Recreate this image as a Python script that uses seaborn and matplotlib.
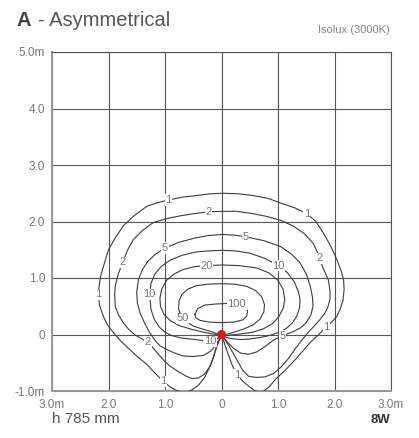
import pandas as pd
import numpy as np
import matplotlib
matplotlib.use('Agg')
import matplotlib.pyplot as plt
import seaborn as sns

# Isolux lines (lux); every line starts and ends at the luminaire
iso1_x = [0, -0.04, -0.085, -0.15, -0.22, -0.30, -0.40, -0.52, -0.66, -0.80, -0.92, -1.03, -1.18, -1.32, -1.48,
          -1.62, -1.78, -1.91, -2.02, -2.09, -2.16, -2.18, -2.16, -2.14, -2.07, -2.00, -1.88, -1.74, -1.55, -1.32,
          -1.14, -0.94, -0.70, -0.44, -0.20, 0.03, 0.30, 0.56, 0.82, 1.04, 1.30, 1.51, 1.67, 1.80, 1.93, 2.04,
          2.12, 2.16, 2.17, 2.15, 2.10, 2.04, 1.96, 1.86, 1.72, 1.57, 1.45, 1.31, 1.14, 0.95, 0.84, 0.72, 0.60,
          0.50, 0.38, 0.27, 0.18, 0.10, 0.04, 0]
iso1_y = [-0.03, -0.10, -0.20, -0.42, -0.60, -0.76, -0.89, -0.98, -1.03, -0.99, -0.92, -0.83, -0.68, -0.53, -0.40,
          -0.27, -0.12, 0.03, 0.17, 0.32, 0.52, 0.71, 0.90, 1.03, 1.27, 1.50, 1.71, 1.92, 2.10, 2.27,
          2.33, 2.38, 2.43, 2.46, 2.49, 2.50, 2.49, 2.46, 2.41, 2.33, 2.24, 2.14, 2.00, 1.80, 1.57, 1.33,
          1.12, 0.97, 0.80, 0.60, 0.45, 0.32, 0.23, 0.14, 0.00, -0.14, -0.28, -0.44, -0.62, -0.80, -0.93, -1.02, -1.00,
          -0.93, -0.83, -0.71, -0.52, -0.30, -0.12, -0.03]

iso2_x = [0, -0.04, -0.085, -0.14, -0.20, -0.30, -0.41, -0.52, -0.62, -0.76, -0.91, -1.00, -1.09, -1.20, -1.30,
          -1.42, -1.53, -1.65, -1.74, -1.83, -1.88, -1.89, -1.88, -1.83, -1.75, -1.66, -1.56, -1.40, -1.21, -0.98,
          -0.73, -0.48, -0.23, 0.00, 0.27, 0.55, 0.80, 1.05, 1.27, 1.46, 1.62, 1.70, 1.73, 1.80, 1.89, 1.92,
          1.92, 1.88, 1.83, 1.74, 1.63, 1.52, 1.42, 1.30, 1.19, 1.06, 0.92, 0.77, 0.62, 0.48, 0.38, 0.30,
          0.20, 0.12, 0.05, 0]
iso2_y = [-0.03, -0.10, -0.22, -0.40, -0.56, -0.70, -0.77, -0.78, -0.74, -0.66, -0.56, -0.48, -0.38, -0.25, -0.14,
          -0.07, -0.01, 0.10, 0.21, 0.36, 0.50, 0.70, 0.86, 1.06, 1.28, 1.50, 1.68, 1.84, 1.98, 2.05,
          2.10, 2.14, 2.17, 2.18, 2.18, 2.14, 2.09, 2.02, 1.92, 1.79, 1.62, 1.45, 1.35, 1.17, 0.97, 0.78,
          0.62, 0.48, 0.38, 0.26, 0.14, 0.02, -0.10, -0.26, -0.42, -0.57, -0.69, -0.75, -0.76, -0.74, -0.64, -0.50,
          -0.32, -0.18, -0.08, -0.03]

iso5_x = [0, -0.05, -0.115, -0.20, -0.32, -0.50, -0.68, -0.85, -0.98, -1.09, -1.18, -1.27, -1.36, -1.44, -1.49,
          -1.50, -1.47, -1.40, -1.30, -1.16, -1.00, -0.76, -0.50, -0.25, 0.00, 0.22, 0.43, 0.75, 1.04, 1.24,
          1.39, 1.50, 1.57, 1.61, 1.62, 1.58, 1.50, 1.40, 1.27, 1.08, 0.92, 0.76, 0.62, 0.48, 0.34, 0.21,
          0.11, 0.04, 0]
iso5_y = [-0.03, -0.10, -0.21, -0.30, -0.37, -0.39, -0.38, -0.32, -0.26, -0.20, -0.10, 0.03, 0.20, 0.38, 0.56,
          0.76, 0.97, 1.15, 1.30, 1.43, 1.53, 1.63, 1.70, 1.75, 1.77, 1.76, 1.73, 1.66, 1.56, 1.42,
          1.27, 1.07, 0.86, 0.66, 0.50, 0.34, 0.21, 0.12, 0.05, -0.02, -0.10, -0.22, -0.31, -0.35, -0.33, -0.24,
          -0.14, -0.06, -0.03]

iso10_x = [0, -0.08, -0.20, -0.38, -0.55, -0.72, -0.88, -1.00, -1.10, -1.19, -1.25, -1.27, -1.25, -1.18, -1.06,
           -0.90, -0.70, -0.46, -0.22, 0.00, 0.25, 0.50, 0.76, 1.01, 1.17, 1.29, 1.36, 1.39, 1.38, 1.33,
           1.25, 1.15, 1.02, 0.88, 0.70, 0.50, 0.32, 0.16, 0.05, 0]
iso10_y = [-0.03, -0.08, -0.12, -0.10, -0.08, -0.06, -0.02, 0.04, 0.13, 0.27, 0.45, 0.71, 0.90, 1.07, 1.21,
           1.32, 1.40, 1.46, 1.48, 1.49, 1.48, 1.44, 1.35, 1.22, 1.09, 0.93, 0.76, 0.62, 0.46, 0.32,
           0.20, 0.11, 0.04, -0.01, -0.05, -0.08, -0.09, -0.07, -0.04, -0.03]

iso20_x = [0, -0.10, -0.32, -0.52, -0.73, -0.90, -1.02, -1.08, -1.09, -1.06, -0.97, -0.84, -0.68, -0.48, -0.27,
           0.00, 0.30, 0.62, 0.84, 1.00, 1.09, 1.12, 1.09, 1.01, 0.90, 0.74, 0.55, 0.35, 0.15, 0]
iso20_y = [-0.03, 0.00, 0.04, 0.09, 0.15, 0.24, 0.36, 0.50, 0.64, 0.80, 0.96, 1.07, 1.15, 1.20, 1.22,
           1.23, 1.22, 1.18, 1.09, 0.96, 0.80, 0.62, 0.46, 0.31, 0.19, 0.10, 0.04, 0.01, -0.01, -0.03]

iso50_x = [0, -0.14, -0.32, -0.50, -0.63, -0.72, -0.76, -0.75, -0.70, -0.60, -0.46, -0.25, 0.00, 0.25, 0.45,
           0.60, 0.71, 0.76, 0.75, 0.68, 0.56, 0.40, 0.22, 0.08, 0]
iso50_y = [-0.03, 0.04, 0.09, 0.15, 0.23, 0.34, 0.46, 0.60, 0.71, 0.80, 0.86, 0.89, 0.90, 0.89, 0.85,
           0.78, 0.67, 0.53, 0.40, 0.27, 0.17, 0.10, 0.04, 0.00, -0.03]

iso100_x = [-0.47, -0.42, -0.30, -0.10, 0.12, 0.30, 0.40, 0.46, 0.45, 0.38, 0.22, 0.00, -0.22, -0.38, -0.46, -0.47]
iso100_y = [0.36, 0.46, 0.52, 0.54, 0.55, 0.54, 0.50, 0.42, 0.33, 0.26, 0.22, 0.21, 0.22, 0.25, 0.30, 0.36]

# inline value labels
label_text = ['1', '1', '1', '1', '1', '1', '2', '2', '2', '2', '5', '5', '5', '10', '10', '10', '20', '50', '100']
label_x = [-0.94, 1.51, -2.18, 1.86, -1.03, 0.27, -0.23, -1.75, 1.73, -1.30, -1.00, 0.43, 1.08, 1.01, -1.27, -0.20,
           -0.27, -0.69, 0.27]
label_y = [2.38, 2.14, 0.71, 0.14, -0.83, -0.71, 2.17, 1.28, 1.35, -0.14, 1.53, 1.73, -0.02, 1.22, 0.71, -0.12,
           1.22, 0.29, 0.54]

source_x = [0.0]
source_y = [0.0]

x_ticks = [-3, -2, -1, 0, 1, 2, 3]
x_ticklabels = ['3.0m', '2.0', '1.0', '0', '1.0', '2.0', '3.0m']
y_ticks = [-1, 0, 1, 2, 3, 4, 5]
y_ticklabels = ['-1.0m', '0', '1.0', '2.0', '3.0', '4.0', '5.0m']

lines = {'1': (iso1_x, iso1_y), '2': (iso2_x, iso2_y), '5': (iso5_x, iso5_y), '10': (iso10_x, iso10_y),
         '20': (iso20_x, iso20_y), '50': (iso50_x, iso50_y), '100': (iso100_x, iso100_y)}
frames = []
for lvl, (xs, ys) in lines.items():
    frames.append(pd.DataFrame({'x': xs, 'y': ys, 'level': lvl, 'order': range(len(xs))}))
df = pd.concat(frames, ignore_index=True)

plt.rcParams['font.family'] = ['Liberation Sans', 'DejaVu Sans']

fig = plt.figure(figsize=(4.19, 4.38), dpi=100)
ax = fig.add_axes([52 / 419, 47 / 438, 339 / 419, 339 / 438])

sns.lineplot(data=df, x='x', y='y', units='level', estimator=None, sort=False,
             color='#3c3c3c', lw=0.8, ax=ax, zorder=3)

for t, lx, ly in zip(label_text, label_x, label_y):
    ax.text(lx, ly, t, ha='center', va='center', fontsize=8, color='#777777', zorder=4,
            bbox=dict(boxstyle='square,pad=0.05', fc='white', ec='none'))

sns.scatterplot(x=source_x, y=source_y, color='#e0121a', s=42, edgecolor='none', ax=ax, zorder=5,
                clip_on=False)

ax.set_xlim(-3, 3)
ax.set_ylim(-1, 5)
ax.set_xticks(x_ticks)
ax.set_xticklabels(x_ticklabels)
ax.set_yticks(y_ticks)
ax.set_yticklabels(y_ticklabels)
ax.tick_params(length=0, labelsize=8.5, labelcolor='#777777')
ax.tick_params(axis='x', pad=6)
ax.tick_params(axis='y', pad=5)
ax.set_xlabel('')
ax.set_ylabel('')
ax.grid(True, color='#555555', lw=0.8)
ax.set_axisbelow(True)
for s in ['top', 'right']:
    ax.spines[s].set_color('#555555')
    ax.spines[s].set_linewidth(0.8)
for s in ['left', 'bottom']:
    ax.spines[s].set_color('#999999')
    ax.spines[s].set_linewidth(1.5)

fig.text(16 / 419, 1 - 26 / 438, 'A', fontsize=14.5, fontweight='bold', color='#444444', va='baseline')
fig.text(38 / 419, 1 - 26 / 438, '- Asymmetrical', fontsize=14.5, color='#555555', va='baseline')
fig.text(390 / 419, 1 - 33 / 438, 'Isolux (3000K)', fontsize=8, color='#888888', ha='right', va='baseline')
fig.text(52 / 419, 1 - 423 / 438, 'h 785 mm', fontsize=11, color='#555555', va='baseline')
fig.text(390 / 419, 1 - 423 / 438, '8W', fontsize=9.5, fontweight='bold', color='#333333', ha='right',
         va='baseline')

fig.savefig('out.png', dpi=100)
